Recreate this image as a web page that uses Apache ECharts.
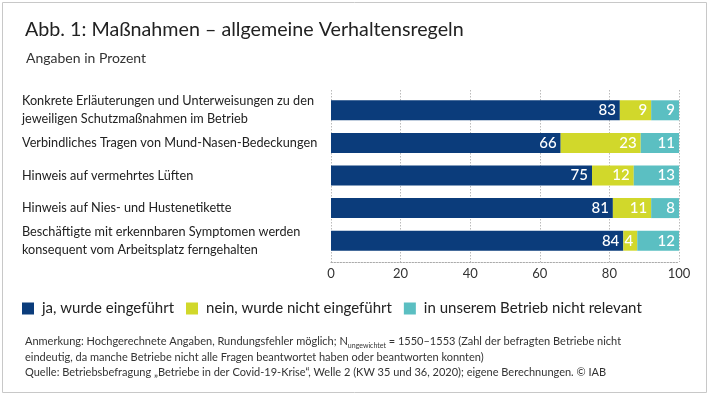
<!DOCTYPE html>
<html><head><meta charset="utf-8">
<script src="https://cdn.jsdelivr.net/npm/echarts@6/dist/echarts.min.js"></script>
<style>html,body{margin:0;padding:0;background:#fff}#c{width:710px;height:395px}</style>
</head><body><div id="c"></div>
<script>
const categories = [
  "Konkrete Erläuterungen und Unterweisungen zu den\njeweiligen Schutzmaßnahmen im Betrieb",
  "Verbindliches Tragen von Mund-Nasen-Bedeckungen",
  "Hinweis auf vermehrtes Lüften",
  "Hinweis auf Nies- und Hustenetikette",
  "Beschäftigte mit erkennbaren Symptomen werden\nkonsequent vom Arbeitsplatz ferngehalten"
];
const seriesNames = ["ja, wurde eingeführt", "nein, wurde nicht eingeführt", "in unserem Betrieb nicht relevant"];
const jaValues = [83, 66, 75, 81, 84];
const neinValues = [9, 23, 12, 11, 4];
const irrelevantValues = [9, 11, 13, 8, 12];
const xTicks = [0, 20, 40, 60, 80, 100];
const colors = ["#0b3c7b", "#d1d82b", "#5bbfc2"];

const FONT = "Lato";
const chart = echarts.init(document.getElementById('c'), null, {renderer: 'canvas'});
const seriesData = [jaValues, neinValues, irrelevantValues];
const noteStyle = {fontFamily: FONT, fontSize: 11, color: '#333', lineHeight: 15.5};
const option = {
  animation: false,
  textStyle: {fontFamily: FONT, color: '#333'},
  graphic: [{type: 'rect', shape: {x: 2.5, y: 2.5, width: 704, height: 390}, style: {fill: 'none', stroke: '#c8c8c8', lineWidth: 1}, silent: true}],
  title: [
    {text: 'Abb. 1: Maßnahmen – allgemeine Verhaltensregeln', left: 20, top: 15, textStyle: {fontFamily: FONT, fontSize: 19.7, fontWeight: 'normal', color: '#222'}},
    {text: 'Angaben in Prozent', left: 21, top: 46, textStyle: {fontFamily: FONT, fontSize: 14, fontWeight: 'normal', color: '#333'}},
    {text: '{a|Anmerkung: Hochgerechnete Angaben, Rundungsfehler möglich; N}{sub|ungewichtet}{a| = 1550–1553 (Zahl der befragten Betriebe nicht}\n{a|eindeutig, da manche Betriebe nicht alle Fragen beantwortet haben oder beantworten konnten)}\n{a|Quelle: Betriebsbefragung „Betriebe in der Covid-19-Krise“, Welle 2 (KW 35 und 36, 2020); eigene Berechnungen. © IAB}',
     left: 20, top: 329, textStyle: {fontFamily: FONT, fontSize: 11, fontWeight: 'normal', color: '#333', lineHeight: 15.5,
       rich: {a: noteStyle, sub: {fontFamily: FONT, fontSize: 7, color: '#333', lineHeight: 15.5, verticalAlign: 'bottom'}}}}
  ],
  legend: {
    left: 22, top: 301, padding: 0, itemWidth: 12, itemHeight: 12, itemGap: 12, icon: 'rect',
    textStyle: {fontFamily: FONT, fontSize: 15, color: '#222', padding: [0,0,0,3]},
    data: seriesNames
  },
  grid: [
    {left: 331, width: 348, top: 90, height: 172},
    {left: 331, width: 348, top: 94, height: 163}
  ],
  xAxis: [
    {gridIndex: 0, type: 'value', min: xTicks[0], max: xTicks[xTicks.length-1], interval: xTicks[1]-xTicks[0],
     axisLine: {show: true, lineStyle: {type: [1.5, 1.5], color: '#aaa'}}, axisTick: {show: false},
     splitLine: {show: true, lineStyle: {type: [1.5, 1.5], color: '#bbb'}},
     axisLabel: {fontFamily: FONT, fontSize: 13, color: '#333', margin: 5}},
    {gridIndex: 1, type: 'value', min: 0, max: 100, show: false}
  ],
  yAxis: [
    {gridIndex: 0, type: 'value', show: false},
    {gridIndex: 1, type: 'category', inverse: true, data: categories,
     axisLine: {show: false}, axisTick: {show: false},
     axisLabel: {align: 'left', margin: 309, fontFamily: FONT, fontSize: 12.7, color: '#222', lineHeight: 18}}
  ],
  series: seriesNames.map((n, i) => ({
    name: n, type: 'bar', stack: 'total', xAxisIndex: 1, yAxisIndex: 1, barWidth: 20,
    itemStyle: {color: colors[i]},
    label: {show: true, position: 'insideRight', distance: 4, color: '#fff', fontFamily: FONT, fontSize: 15, fontWeight: 500},
    data: seriesData[i]
  }))
};
chart.setOption(option);
</script></body></html>
